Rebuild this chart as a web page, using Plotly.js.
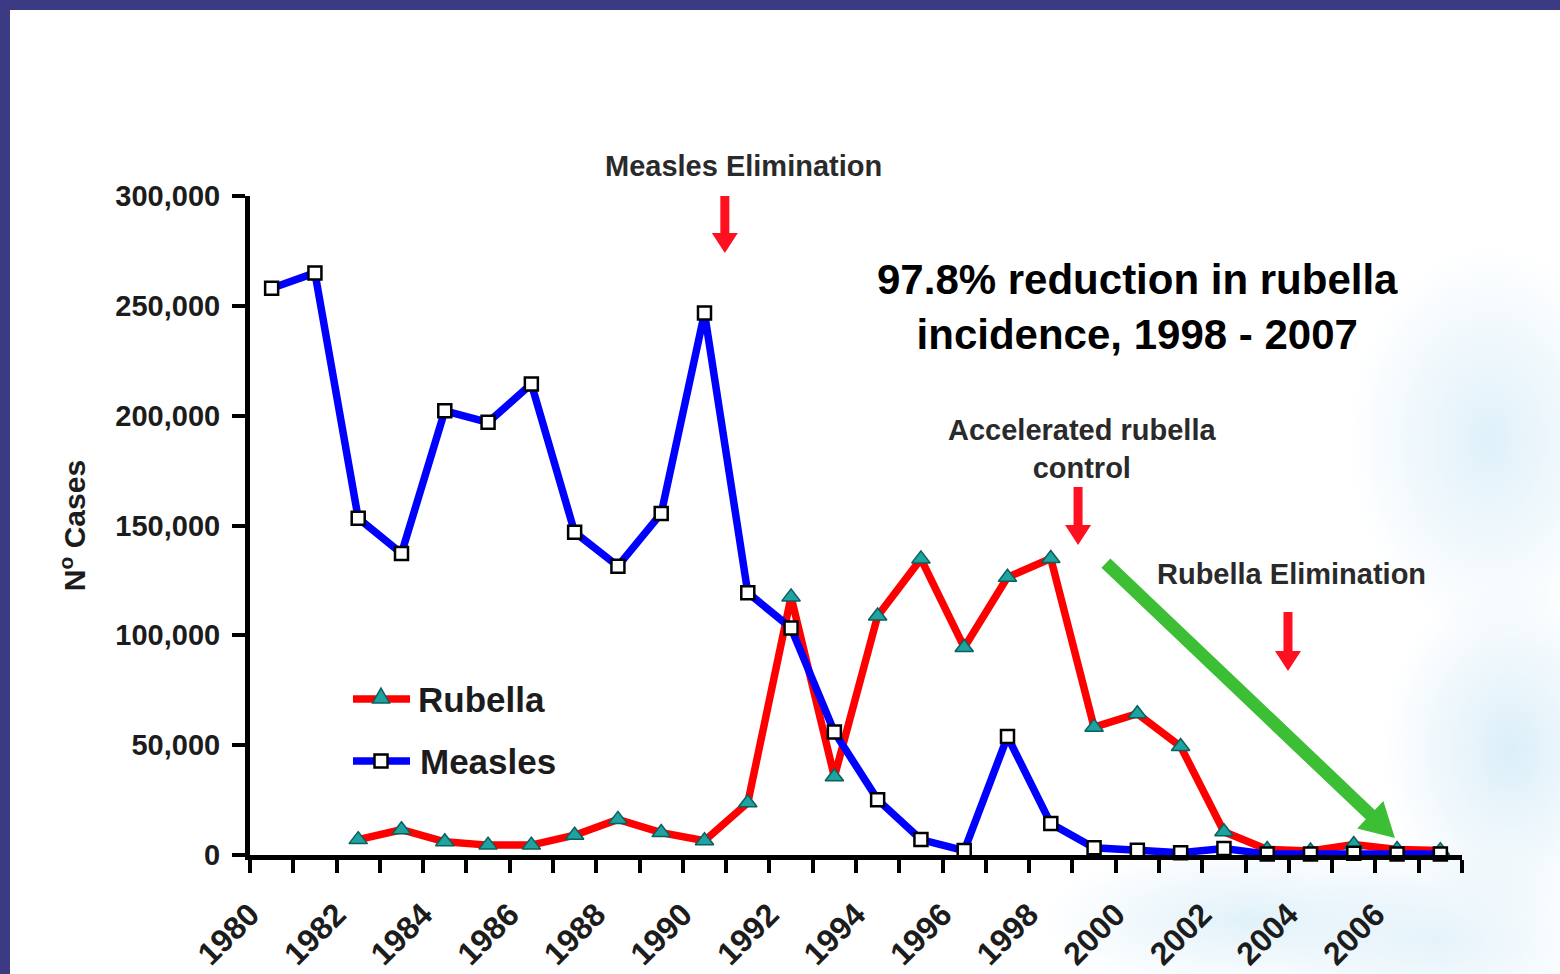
<!DOCTYPE html>
<html>
<head>
<meta charset="utf-8">
<script src="https://cdn.plot.ly/plotly-3.0.1.min.js"></script>
<style>
  html, body { margin: 0; padding: 0; width: 1560px; height: 974px; overflow: hidden; background: #3d3a84; }
  #slide {
    position: absolute; left: 10px; top: 10px; width: 1550px; height: 964px;
    background-color: #ffffff;
    background-image:
      radial-gradient(ellipse 190px 260px at 1480px 430px, rgba(220,239,249,0.9), rgba(220,239,249,0) 75%),
      radial-gradient(ellipse 170px 230px at 1500px 740px, rgba(216,237,248,0.9), rgba(216,237,248,0) 75%),
      radial-gradient(ellipse 280px 100px at 1240px 910px, rgba(220,239,249,0.85), rgba(220,239,249,0) 75%),
      radial-gradient(ellipse 220px 130px at 1430px 930px, rgba(220,239,249,0.75), rgba(220,239,249,0) 75%);
  }
  #chart { position: absolute; left: 0; top: 0; width: 1560px; height: 974px; }
</style>
</head>
<body>
<div id="slide"></div>
<div id="chart"></div>
<script>
// Reported cases per year
const years = [1980, 1981, 1982, 1983, 1984, 1985, 1986, 1987, 1988, 1989,
               1990, 1991, 1992, 1993, 1994, 1995, 1996, 1997, 1998, 1999,
               2000, 2001, 2002, 2003, 2004, 2005, 2006, 2007];

const rubellaCases = [null, null, 7000, 11500, 6000, 4500, 4500, 9000, 16200, 10200,
                      6500, 23800, 117500, 35600, 108800, 134800, 94500, 126400, 135000, 58200,
                      64300, 49400, 10600, 2500, 1800, 4800, 2500, 2000];

const measlesCases = [258000, 265000, 153300, 137300, 202200, 197000, 214400, 146900, 131500, 155500,
                      246700, 119400, 103300, 56000, 25200, 7000, 2000, 53900, 14300, 3300,
                      2200, 1000, 3000, 400, 400, 800, 500, 500];

const yearTickLabels = ['1980', '1982', '1984', '1986', '1988', '1990', '1992',
                        '1994', '1996', '1998', '2000', '2002', '2004', '2006'];

const caseTicks = [0, 50000, 100000, 150000, 200000, 250000, 300000];

// Year ticks sit on the boundaries between years; every other one carries a label
const boundaries = years.map(y => y - 0.5).concat([years[years.length - 1] + 0.5]);
const labelledTicks = yearTickLabels.map(t => Number(t) - 0.5);

const FONT = 'Liberation Sans, Arial, Helvetica, sans-serif';
const INK = '#1c1c1c';
const NOTE = '#2a2a2a';
const RED = '#ff0000', BLUE = '#0000ff', TEAL = '#1fa3a0', TEAL_EDGE = '#0b5f5c';
const ARROW_RED = '#ff1020', ARROW_GREEN = '#3cbf34';

// Plot box in page pixels, used to place the hand-built legend
const BOX = { l: 250, t: 196, w: 1212, h: 659 };
const paperX = px => (px - BOX.l) / BOX.w;
const paperY = py => (BOX.t + BOX.h - py) / BOX.h;

const rubella = {
  type: 'scatter', mode: 'lines+markers', name: 'Rubella', showlegend: false,
  x: years, y: rubellaCases, connectgaps: false, cliponaxis: false,
  line: { color: RED, width: 7.5 },
  marker: { symbol: 'triangle-up', size: 16, color: TEAL, line: { color: TEAL_EDGE, width: 1.5 } }
};

const measles = {
  type: 'scatter', mode: 'lines+markers', name: 'Measles', showlegend: false,
  x: years, y: measlesCases, cliponaxis: false,
  line: { color: BLUE, width: 7.5 },
  marker: { symbol: 'square', size: 13, color: '#ffffff', line: { color: '#000000', width: 2.5 } }
};

function textNote(text, x, y, size, color, refs) {
  return Object.assign({
    text: text, x: x, y: y, xref: 'x', yref: 'y', showarrow: false,
    xanchor: 'center', yanchor: 'middle', align: 'center',
    font: { family: FONT, size: size, color: color, weight: 'bold' }
  }, refs || {});
}

// Block arrow: tip anchored in data units, body drawn in pixels (y up);
// (dx, dy) points from the tip back to the tail.
function blockArrow(xTip, yTip, dx, dy, shaftW, headW, headL, color) {
  const len = Math.hypot(dx, dy);
  const ux = dx / len, uy = dy / len;
  const nx = -uy, ny = ux;
  const pt = (along, side) => [ux * along + nx * side, uy * along + ny * side];
  const pts = [
    pt(len, shaftW / 2), pt(headL, shaftW / 2), pt(headL, headW / 2), pt(0, 0),
    pt(headL, -headW / 2), pt(headL, -shaftW / 2), pt(len, -shaftW / 2)
  ];
  const path = 'M' + pts.map(p => p[0].toFixed(2) + ',' + p[1].toFixed(2)).join('L') + 'Z';
  return {
    type: 'path', xref: 'x', yref: 'y', xsizemode: 'pixel', ysizemode: 'pixel',
    xanchor: xTip, yanchor: yTip, path: path,
    fillcolor: color, line: { width: 0 }, layer: 'above'
  };
}

// Legend sample: a short line with the series marker in the middle
function legendLine(x0, x1, y, color) {
  return {
    type: 'line', xref: 'paper', yref: 'paper',
    x0: paperX(x0), x1: paperX(x1), y0: paperY(y), y1: paperY(y),
    line: { color: color, width: 7.5 }, layer: 'above'
  };
}
function legendSquare(x, y, size) {
  return {
    type: 'rect', xref: 'paper', yref: 'paper', xsizemode: 'pixel', ysizemode: 'pixel',
    xanchor: paperX(x), yanchor: paperY(y),
    x0: -size / 2, x1: size / 2, y0: -size / 2, y1: size / 2,
    fillcolor: '#ffffff', line: { color: '#000000', width: 2.5 }, layer: 'above'
  };
}
function legendTriangle(x, y, size) {
  const h = size * 0.87;
  return {
    type: 'path', xref: 'paper', yref: 'paper', xsizemode: 'pixel', ysizemode: 'pixel',
    xanchor: paperX(x), yanchor: paperY(y),
    path: 'M0,' + (h * 0.6).toFixed(1) + 'L' + (size / 2) + ',' + (-h * 0.4).toFixed(1) +
          'L' + (-size / 2) + ',' + (-h * 0.4).toFixed(1) + 'Z',
    fillcolor: TEAL, line: { color: TEAL_EDGE, width: 1.5 }, layer: 'above'
  };
}
function legendLabel(text, x, y) {
  return {
    text: text, xref: 'paper', yref: 'paper', x: paperX(x), y: paperY(y),
    xanchor: 'left', yanchor: 'middle', showarrow: false,
    font: { family: FONT, size: 35, color: INK, weight: 'bold' }
  };
}

const layout = {
  width: 1560, height: 974,
  paper_bgcolor: 'rgba(0,0,0,0)', plot_bgcolor: 'rgba(0,0,0,0)',
  margin: { l: BOX.l, r: 1560 - BOX.l - BOX.w, t: BOX.t, b: 974 - BOX.t - BOX.h },
  showlegend: false,
  xaxis: {
    range: [1979.5, 2007.5], tickmode: 'array', tickvals: labelledTicks, ticktext: yearTickLabels,
    tickangle: -45, ticks: 'outside', ticklen: 13, tickwidth: 4, tickcolor: '#000',
    minor: { tickmode: 'array', tickvals: boundaries, ticks: 'outside', ticklen: 13, tickwidth: 4, tickcolor: '#000', showgrid: false },
    showline: true, linewidth: 5, linecolor: '#000', showgrid: false, zeroline: false,
    ticklabelstandoff: 10,
    tickfont: { family: FONT, size: 32, color: INK, weight: 'bold' }
  },
  yaxis: {
    range: [0, 300000], tickmode: 'array', tickvals: caseTicks, tickformat: ',',
    ticks: 'outside', ticklen: 13, tickwidth: 4, tickcolor: '#000',
    showline: true, linewidth: 5, linecolor: '#000', showgrid: false, zeroline: false,
    ticklabelstandoff: 6,
    tickfont: { family: FONT, size: 29, color: INK, weight: 'bold' },
    title: { text: 'N<sup>o</sup> Cases', standoff: 22, font: { family: FONT, size: 30, color: INK, weight: 'bold' } }
  },
  shapes: [
    blockArrow(1990.47, 274000, 0, 60, 9, 26, 20, ARROW_RED),
    blockArrow(1998.63, 141100, 0, 58, 9, 26, 20, ARROW_RED),
    blockArrow(2003.48, 83800, 0, 59, 9, 26, 20, ARROW_RED),
    blockArrow(2005.95, 7700, -289, 275, 13, 38, 34, ARROW_GREEN),
    legendLine(353, 410, 699, RED),
    legendTriangle(381, 697, 17),
    legendLine(353, 410, 761, BLUE),
    legendSquare(381, 761, 13)
  ],
  annotations: [
    textNote('Measles Elimination', 1990.91, paperY(166), 29, NOTE, { yref: 'paper' }),
    textNote('97.8% reduction in rubella<br>incidence, 1998 - 2007', 2000.0, 249500, 42, '#000000'),
    textNote('Accelerated rubella<br>control', 1998.72, 185000, 29, NOTE),
    textNote('Rubella Elimination', 2003.55, 127900, 29, NOTE),
    legendLabel('Rubella', 416, 699),
    legendLabel('Measles', 418, 761)
  ]
};

Plotly.newPlot('chart', [rubella, measles], layout, { displayModeBar: false, staticPlot: true });
</script>
</body>
</html>
